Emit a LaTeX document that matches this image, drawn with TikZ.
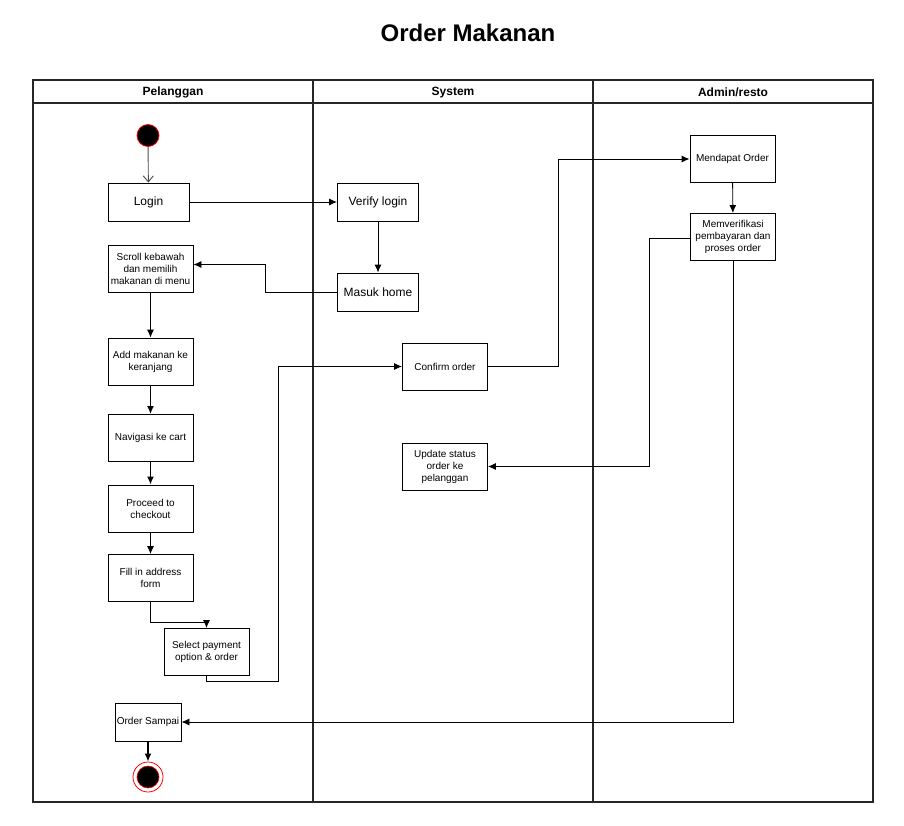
\documentclass[tikz,border=0pt]{standalone}
\usepackage{fontspec}
\setmainfont{Liberation Sans}
\usetikzlibrary{calc, arrows, arrows.meta}
\tikzstyle{act}=[draw, fill=white, line width=0.9pt, minimum width=85pt, minimum height=47pt, align=center, inner sep=1pt, font=\fontsize{10}{12}\selectfont]
\tikzstyle{actbig}=[act, minimum width=81pt, minimum height=38pt, font=\fontsize{12}{14}\selectfont]
\tikzstyle{lanehead}=[font=\bfseries\fontsize{12}{14}\selectfont]
\tikzstyle{initial}=[circle, draw=red, fill=black, line width=0.8pt, minimum size=22pt, inner sep=0pt]
\tikzstyle{final}=[circle, draw=red, fill=white, line width=0.8pt, minimum size=30pt, inner sep=0pt]

\begin{document}
\begin{tikzpicture}[x=1pt,y=-1pt,>={Latex[length=8pt,width=7pt]},line width=0.9pt]
      \useasboundingbox (0,0) rectangle (904,825);

      \node (title) at (468,33) {\bfseries\fontsize{24}{28}\selectfont Order Makanan};

      % swimlanes
      \draw[line width=1.2pt, black!85] (33,80) rectangle (873,802);
      \draw[line width=1.2pt, black!85] (33,103) -- (873,103);
      \draw[line width=1.2pt, black!85] (313,80) -- (313,802);
      \draw[line width=1.2pt, black!85] (593,80) -- (593,802);
      \node [lanehead] (pelanggan) at (173,92.5) {Pelanggan};
      \node [lanehead] (system) at (453,92.5) {System};
      \node [lanehead] (admin) at (733,92.5) {Admin/resto};

      \node [initial] (start) at (148,135.5) {};

      \node [actbig] (login) at (148.5,202) {Login};
      \node [actbig] (verify) at (378,202) {Verify login};
      \node [actbig] (home) at (378,292) {Masuk home};

      \node [act] (scroll) at (150.5,268.5) {Scroll kebawah\\dan memilih\\makanan di menu};
      \node [act] (add) at (150.5,361.5) {Add makanan ke\\keranjang};
      \node [act] (cart) at (150.5,438) {Navigasi ke cart};
      \node [act] (checkout) at (150.5,508.5) {Proceed to\\checkout};
      \node [act] (address) at (150.5,578) {Fill in address\\form};
      \node [act] (payment) at (206.5,652) {Select payment\\option \& order};

      \node [act] (confirm) at (445,366.5) {Confirm order};
      \node [act] (update) at (445,466.5) {Update status\\order ke\\pelanggan};

      \node [act] (dapat) at (732.5,159) {Mendapat Order};
      \node [act] (proses) at (733,237) {Memverifikasi\\pembayaran dan\\proses order};

      \node [act, minimum width=66pt, minimum height=38pt] (sampai) at (148,722) {Order Sampai};

      \node [final] (end) at (148,777) {};
      \node [circle, draw=red, fill=black, line width=0.6pt, minimum size=22pt, inner sep=0pt] (endin) at (end) {};

      \coordinate (pay) at (278,681);

      \path[-{Straight Barb[length=6pt,width=10pt]}, black!70] (start) edge node {} (login);
      \path[->] (login) edge node {} (verify);
      \path[->] (verify) edge node {} (home);
      \draw[->] (home.west) -- ++(-72,0) |- ([yshift=4pt]scroll.east);

      \path[->] (scroll) edge node {} (add);
      \path[->, line width=1.5pt] (add) edge node {} (cart);
      \path[->, line width=1.5pt] (cart) edge node {} (checkout);
      \path[->] (checkout) edge node {} (address);
      \draw[->] (address.south) -- ++(0,20) -| (payment.north);
      \draw[->] (payment.south) |- (pay) |- (confirm.west);

      \draw[->] (confirm.east) -- ++(70,0) |- (dapat.west);
      \path[->] (dapat) edge node {} (proses);
      \draw[->] ([yshift=-1pt]proses.west) -- ++(-41,0) |- (update.east);
      \draw[->] (proses.south) |- (sampai.east);
      \path[->, line width=1.5pt] (sampai) edge node {} (end);
\end{tikzpicture}
\end{document}
